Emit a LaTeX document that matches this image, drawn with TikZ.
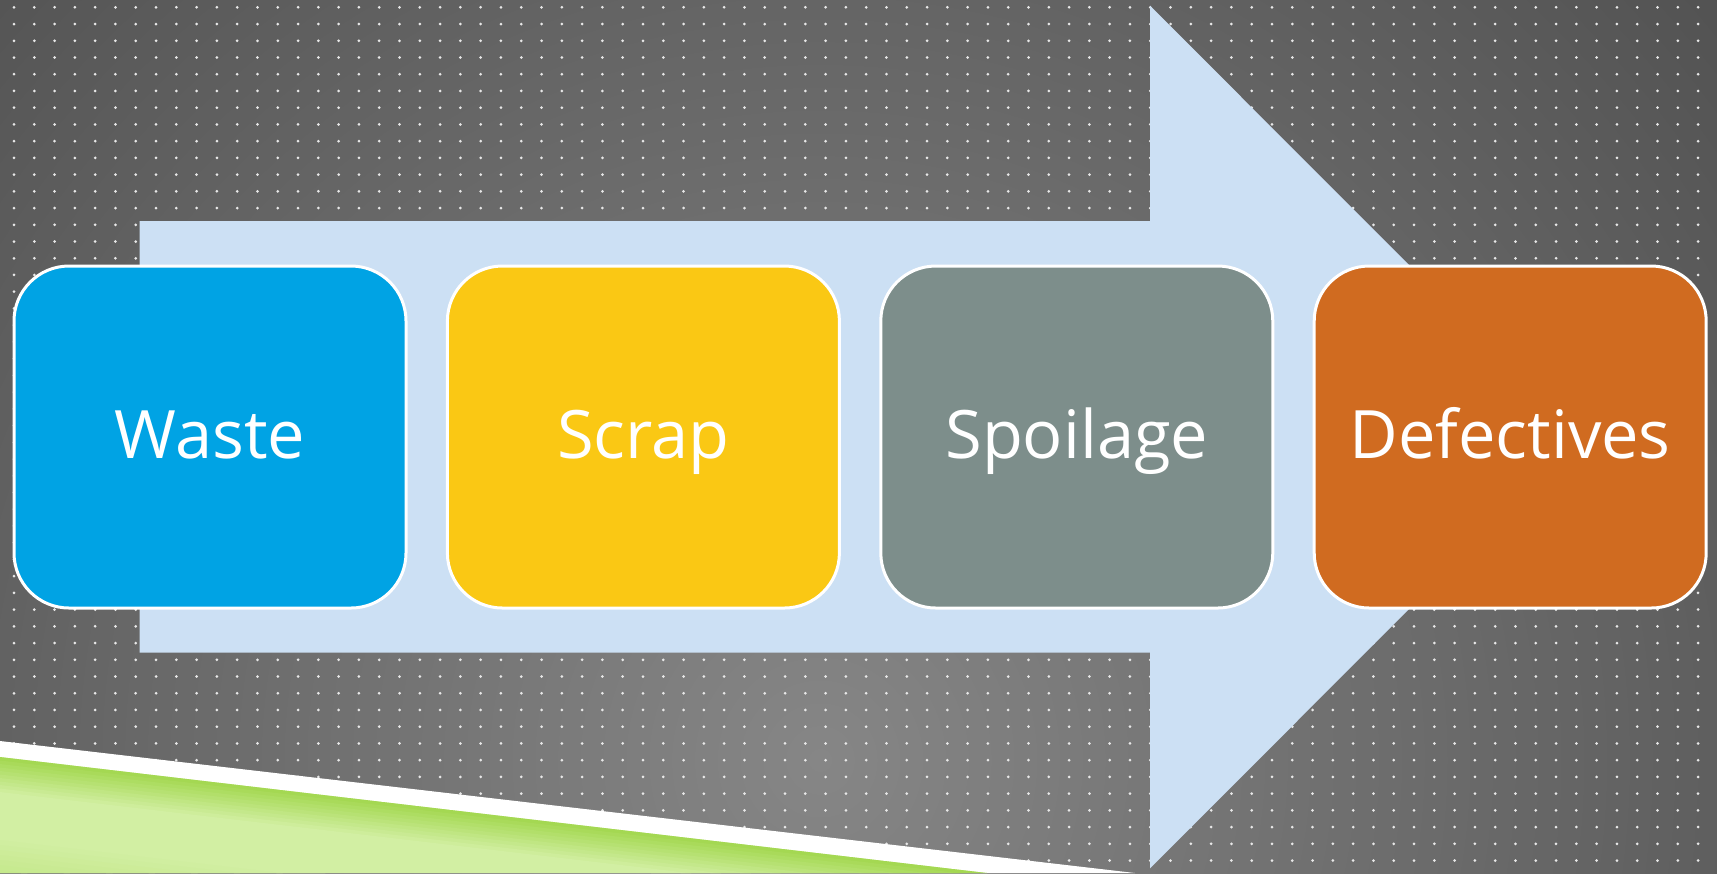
\documentclass[tikz,border=0pt]{standalone}
\usepackage{fontspec}
\setmainfont{Open Sans}
\usetikzlibrary{positioning}

\definecolor{bgdark}{RGB}{66,66,66}
\definecolor{bglight}{RGB}{134,134,134}
\definecolor{dotgrey}{RGB}{232,232,232}
\definecolor{arrowblue}{RGB}{204,224,244}
\definecolor{leafgreen}{RGB}{164,216,82}
\definecolor{leafpale}{RGB}{210,239,163}
\definecolor{wasteblue}{RGB}{0,163,228}
\definecolor{scrapyellow}{RGB}{250,200,20}
\definecolor{spoilgrey}{RGB}{125,142,139}
\definecolor{defectorange}{RGB}{208,107,32}

\begin{document}
\begin{tikzpicture}[x=0.1mm, y=-0.1mm, node distance={3.84mm},
                    box/.style = {draw=white, line width=0.3mm, rounded corners=5.5mm,
                                  minimum width=39.2mm, minimum height=34.2mm,
                                  text=white, font=\fontsize{19}{23}\selectfont,
                                  text height=4.2mm, text depth=0mm}]
    \useasboundingbox (0,0) rectangle (1717,873);

    % dark backdrop, lighter towards the middle
    \fill[bgdark] (0,0) rectangle (1717,873);
    \begin{scope}
        \clip (0,0) rectangle (1717,873);
        \shade[inner color=bglight, outer color=bgdark] (820,760) circle (1550);
    \end{scope}

    % dot grid, one row at a time
    \foreach \j in {0,...,51}
        \fill[dotgrey] \foreach \i in {0,...,83} {(14+20.29*\i, 7.3+16.73*\j) circle (1.5)};

    % green stripe, bottom left: thin bands parallel to its top edge
    \fill[white] (0,741) -- (1135,873) -- (0,873) -- cycle;
    \begin{scope}
        \clip (0,757) -- (987,873) -- (0,873) -- cycle;
        \fill[leafpale] (0,757) -- (987,873) -- (0,873) -- cycle;
        \foreach \k [evaluate=\k as \c using int(100-10*\k)] in {0,...,10}
            \fill[leafgreen!\c!leafpale] (0,757+3.5*\k) -- (1000,874.5+3.5*\k)
                -- (1000,879+3.5*\k) -- (0,761.5+3.5*\k) -- cycle;
        \foreach \k [evaluate=\k as \c using int(4*\k)] in {0,...,10}
            \fill[leafgreen!\c!leafpale] (0,835+5*\k) -- (1000,952.5+5*\k)
                -- (1000,958+5*\k) -- (0,840.5+5*\k) -- cycle;
    \end{scope}

    % big arrow behind the boxes
    \fill[arrowblue] (139.7,221) -- (1150,221) -- (1150,5.7) -- (1581,437)
        -- (1150,868.3) -- (1150,652.7) -- (139.7,652.7) -- cycle;

    \node[box, fill=wasteblue] (waste) at (210,437) {Waste};
    \node[box, fill=scrapyellow, right=of waste] (scrap) {Scrap};
    \node[box, fill=spoilgrey, right=of scrap] (spoil) {Spoilage};
    \node[box, fill=defectorange, right=of spoil] (defect) {Defectives};
\end{tikzpicture}
\end{document}
